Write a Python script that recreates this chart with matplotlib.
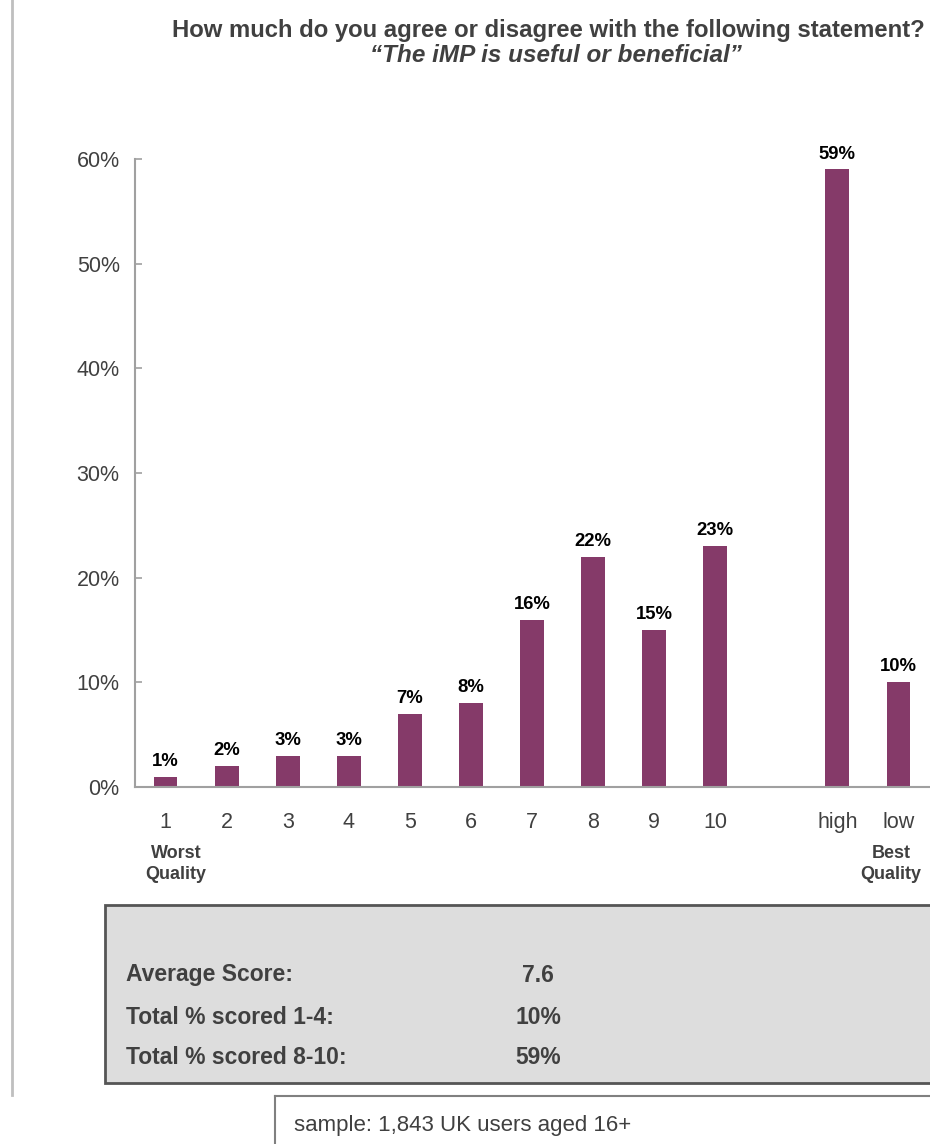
import matplotlib
matplotlib.use("Agg")
import matplotlib.pyplot as plt
from matplotlib.patches import Rectangle
from matplotlib.lines import Line2D

plt.rcParams['font.family'] = ['Liberation Sans', 'DejaVu Sans']

# ---- data ----
categories = ['1', '2', '3', '4', '5', '6', '7', '8', '9', '10', 'high', 'low']
values = [1, 2, 3, 3, 7, 8, 16, 22, 15, 23, 59, 10]
y_ticks = [0, 10, 20, 30, 40, 50, 60]
title_line1 = "How much do you agree or disagree with the following statement?"
title_line2 = "\u201cThe iMP is useful or beneficial\u201d"
summary_labels = ["Average Score:", "Total % scored 1-4:", "Total % scored 8-10:"]
summary_values = ["7.6", "10%", "59%"]
sample_note = "sample: 1,843 UK users aged 16+"

W, H = 930, 1144
TEXT = '#404040'
BAR = '#853A69'

def fx(x):
    return x / W

def fy(y):
    return 1 - y / H

fig = plt.figure(figsize=(W / 100, H / 100), dpi=100)

# left decorative line
fig.add_artist(Line2D([fx(12), fx(12)], [fy(0), fy(1095)], color='#bfbfbf', lw=2,
                      transform=fig.transFigure))

# title
fig.text(fx(548), fy(31), title_line1, ha='center', va='center', fontsize=17.2,
         fontweight='bold', color=TEXT)
fig.text(fx(556), fy(55), title_line2, ha='center', va='center', fontsize=17.5,
         fontweight='bold', fontstyle='italic', color=TEXT)

# axes
ax = fig.add_axes([fx(135), fy(787), (929 - 135) / W, (787 - 159) / H])
positions = [i if i < 10 else i + 1 for i in range(len(categories))]
bars = ax.bar(positions, values, width=0.39, color=BAR)
for p, v in zip(positions, values):
    ax.annotate(f"{v}%", (p, v), xytext=(0, 5), textcoords='offset points',
                ha='center', va='bottom', fontsize=13.3, fontweight='bold', color='black')

ax.set_xlim(-0.5, 12.5)
ax.set_ylim(0, 60)
ax.set_yticks(y_ticks)
ax.set_yticklabels([f"{t}%" for t in y_ticks])
ax.set_xticks(positions)
ax.set_xticklabels(categories)
for s in ['top', 'right']:
    ax.spines[s].set_visible(False)
for s in ['left', 'bottom']:
    ax.spines[s].set_color('#a0a0a0')
    ax.spines[s].set_linewidth(1.5)
ax.tick_params(axis='y', direction='in', length=5, width=1.2, color='#a0a0a0',
               labelsize=15.5, labelcolor=TEXT, pad=11)
ax.tick_params(axis='x', length=0, labelsize=15.5, labelcolor=TEXT, pad=18)

# Worst / Best quality notes
fig.text(fx(176), fy(864), "Worst\nQuality", ha='center', va='center', fontsize=13,
         fontweight='bold', color=TEXT, linespacing=1.25)
fig.text(fx(891), fy(864), "Best\nQuality", ha='center', va='center', fontsize=13,
         fontweight='bold', color=TEXT, linespacing=1.25)

# summary box
fig.add_artist(Rectangle((fx(105), fy(1083)), fx(900), (1083 - 905) / H,
                         transform=fig.transFigure, facecolor='#dddddd',
                         edgecolor='#555555', lw=2, clip_on=False))
row_y = [975, 1017, 1058]
for lab, val, y in zip(summary_labels, summary_values, row_y):
    fig.text(fx(126), fy(y), lab, ha='left', va='center', fontsize=16.5,
             fontweight='bold', color=TEXT)
    fig.text(fx(538), fy(y), val, ha='center', va='center', fontsize=16.5,
             fontweight='bold', color=TEXT)

# sample note box
fig.add_artist(Line2D([fx(275), fx(935)], [fy(1096), fy(1096)], color='#808080', lw=1.5,
                      transform=fig.transFigure))
fig.add_artist(Line2D([fx(275), fx(275)], [fy(1096), fy(1150)], color='#808080', lw=1.5,
                      transform=fig.transFigure))
fig.text(fx(294), fy(1125), sample_note, ha='left', va='center', fontsize=16,
         color=TEXT)

fig.savefig('out.png', dpi=100)
